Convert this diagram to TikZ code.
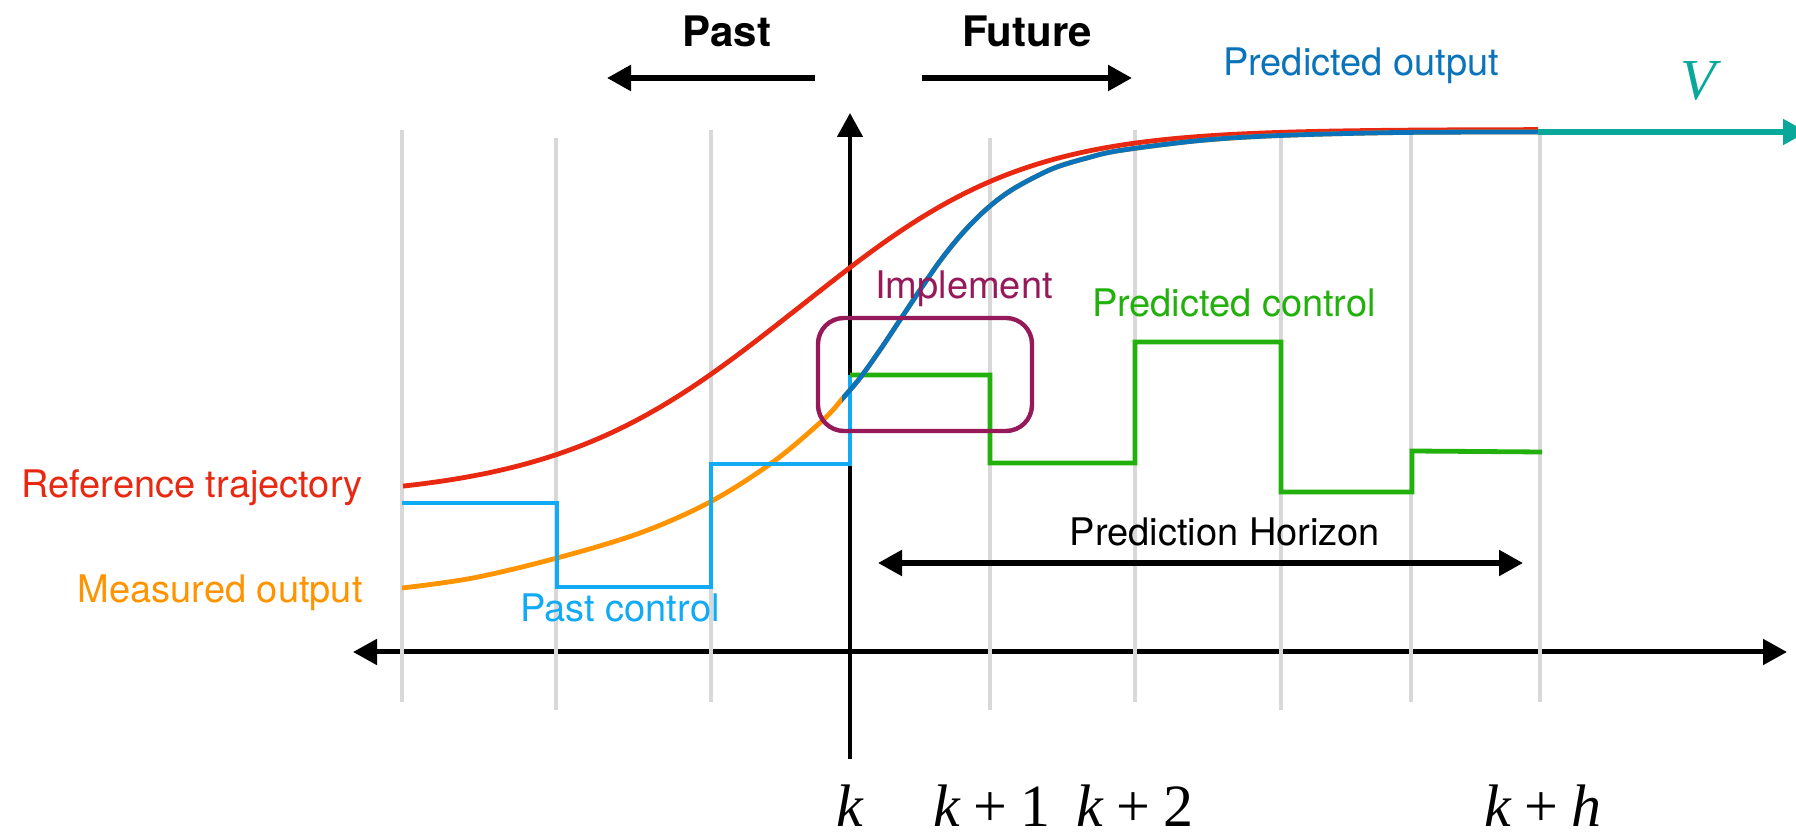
\documentclass[tikz,border=0pt]{standalone}
\usepackage{fontspec}
\setsansfont{TeX Gyre Heros}
\newfontfamily\tms{Liberation Serif}
\usetikzlibrary{arrows.meta}
\definecolor{refred}{RGB}{232,40,16}
\definecolor{measorange}{RGB}{255,148,0}
\definecolor{pastblue}{RGB}{16,170,245}
\definecolor{predblue}{RGB}{10,115,185}
\definecolor{ctrlgreen}{RGB}{34,176,12}
\definecolor{implpurple}{RGB}{150,25,90}
\definecolor{vteal}{RGB}{10,168,155}
\definecolor{gridgray}{RGB}{216,216,216}
\newcommand{\kplus}[1]{\textit{k}\hspace{0.22em}+\hspace{0.22em}#1}
\begin{document}
\begin{tikzpicture}[x=0.5pt,y=-0.5pt,
  lbl/.style={font=\sffamily\fontsize{19pt}{22pt}\selectfont, inner sep=0pt, anchor=base},
  boldlbl/.style={font=\sffamily\bfseries\fontsize{21pt}{24pt}\selectfont, inner sep=0pt, anchor=base},
  mathlbl/.style={font=\tms\fontsize{30pt}{33pt}\selectfont, inner sep=0pt, anchor=base},
  gridline/.style={draw=gridgray, line width=2pt},
  tip/.style={-{Triangle[length=12pt,width=12.5pt]}},
  bothtip/.style={{Triangle[length=12pt,width=12.5pt]}-{Triangle[length=12pt,width=12.5pt]}},
  curve/.style={line width=2.4pt, line join=round},
  stepline/.style={line width=2.4pt, line join=miter},
]
\useasboundingbox (0,0) rectangle (1796,833);

% axes
\coordinate (hl) at (353,652);
\coordinate (hr) at (1787,652);
\coordinate (vb) at (850,759);
\coordinate (vt) at (850,113);
\draw[line width=2.5pt, bothtip] (hl) -- (hr);
\draw[line width=2.3pt, tip] (vb) -- (vt);

% grid lines
\foreach \x/\t/\b in {402/130/702, 556/138/710, 711/130/702, 990/138/710, 1135/130/702, 1281/138/710, 1411/135/702, 1540/135/702}{
  \draw[gridline] (\x,\t) -- (\x,\b);
}

% Past / Future
\node[boldlbl] (past) at (727,47) {Past};
\node[boldlbl] (future) at (1027,47) {Future};
\coordinate (pa1) at (815,78);
\coordinate (pa2) at (607,78);
\coordinate (fa1) at (922,78);
\coordinate (fa2) at (1132,78);
\draw[line width=2.7pt, tip] (pa1) -- (pa2);
\draw[line width=2.7pt, tip] (fa1) -- (fa2);

% reference trajectory
\draw[curve, refred] plot[domain=403:1538, samples=160, smooth]
  (\x, {129.5 + 370/(1+exp((\x-790)/118 + 0.04*pow(max(0,(\x-790)/118),2)))});

% measured output
\def\outputcurve{(402,588) (473,578) (557,558) (640,533) (710,502) (773,462) (823,420) (843,398) (860,378) (880,350) (900,320) (920,290) (940,261) (960,236) (980,215) (1000,198) (1020,185) (1053,168.5) (1087,158) (1120,150.5) (1200,140.5) (1280,135.5) (1400,132.5) (1538,132)}
\draw[curve, measorange] plot[smooth, tension=0.55] coordinates {\outputcurve};

% past control
\draw[stepline, pastblue] (402,503) -- (557,503) -- (557,587) -- (711,587) -- (711,464) -- (850,464) -- (850,375);

% predicted control
\draw[stepline, ctrlgreen] (850,375) -- (990,375) -- (990,463) -- (1135,463) -- (1135,342) -- (1281,342) -- (1281,492) -- (1412,492) -- (1412,451) -- (1542,452);

% predicted output (same curve, from x = 842 on)
\begin{scope}
  \clip (842,0) rectangle (1796,833);
  \draw[curve, predblue] plot[smooth, tension=0.55] coordinates {\outputcurve};
\end{scope}

% V arrow
\coordinate (va1) at (1538,132);
\coordinate (va2) at (1807,132);
\draw[line width=2.6pt, vteal, tip] (va1) -- (va2);
\node[mathlbl, font=\tms\itshape\fontsize{29pt}{32pt}\selectfont, text=vteal] (vlabel) at (1698,100) {V};

% implement box
\node[draw=implpurple, line width=2.2pt, rounded corners=13pt, minimum width=107pt, minimum height=56.5pt, inner sep=0pt] (implbox) at (925,374.5) {};
\node[lbl, text=implpurple] (impl) at (964,299) {Implement};

% labels
\node[lbl, text=predblue] (predout) at (1361,76) {Predicted output};
\node[lbl, text=ctrlgreen] (predctrl) at (1234,317) {Predicted control};
\node[lbl, text=refred, anchor=base east] (reftraj) at (363,498) {Reference trajectory};
\node[lbl, text=measorange, anchor=base east] (measout) at (363,603) {Measured output};
\node[lbl, text=pastblue] (pastctrl) at (620,622) {Past control};

% prediction horizon
\node[lbl] (ph) at (1225,546) {Prediction Horizon};
\coordinate (ph1) at (878,563);
\coordinate (ph2) at (1523,563);
\draw[line width=2.6pt, bothtip] (ph1) -- (ph2);

% time labels
\node[mathlbl] (k0) at (850,827) {\textit{k}};
\node[mathlbl] (k1) at (992,827) {\kplus{1}};
\node[mathlbl] (k2) at (1135,827) {\kplus{2}};
\node[mathlbl] (kh) at (1543,827) {\kplus{\textit{h}}};
\end{tikzpicture}
\end{document}
